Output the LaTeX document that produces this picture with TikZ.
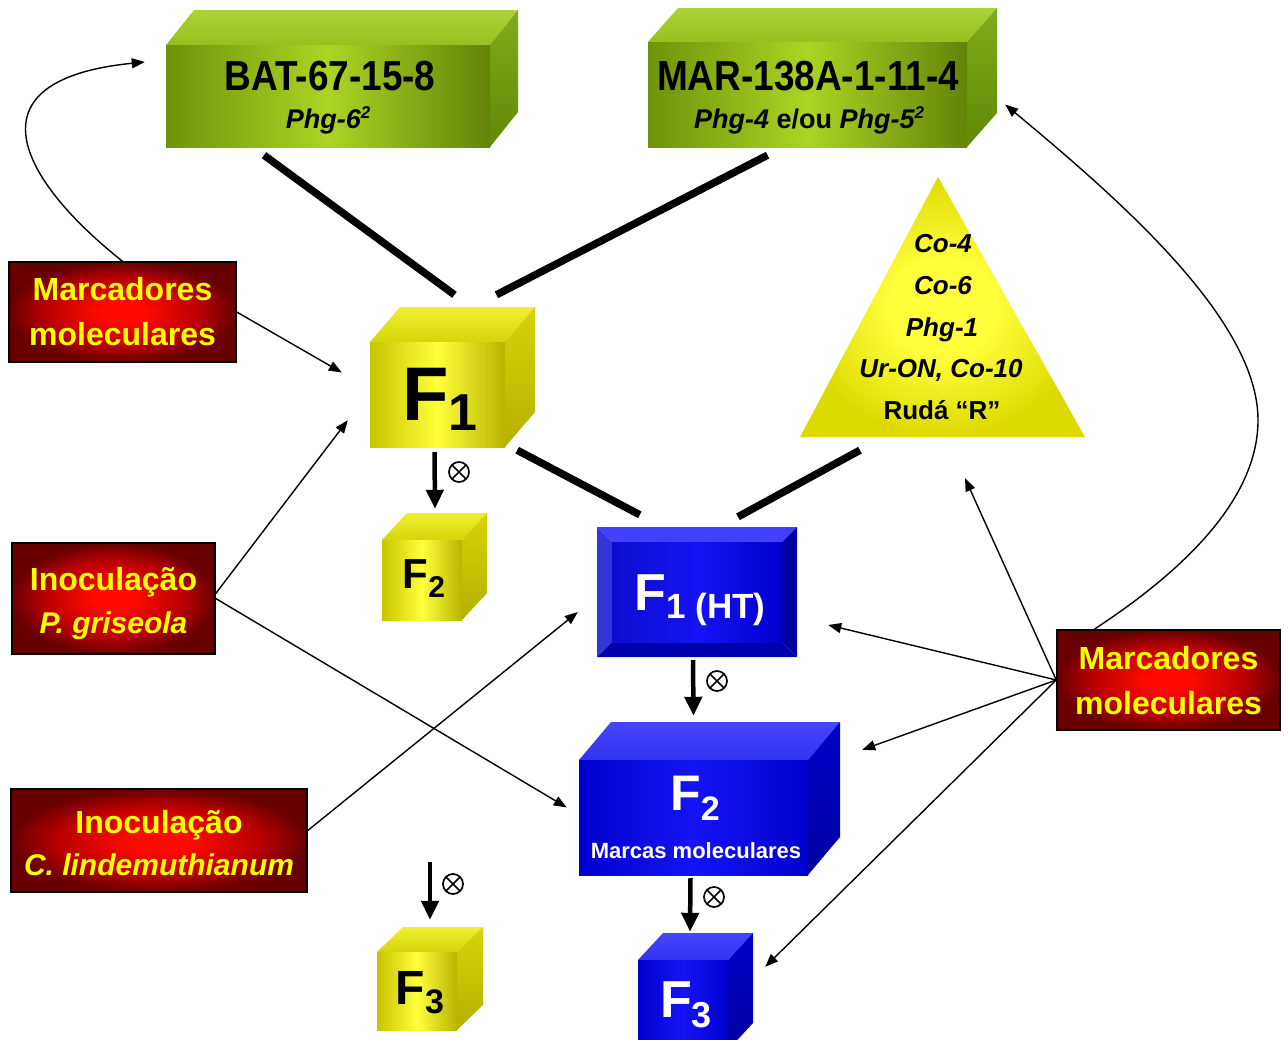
\documentclass[tikz,border=0pt]{standalone}
\usepackage{fontspec}
\setmainfont{Liberation Sans}
\usetikzlibrary{arrows.meta}

\definecolor{grA}{RGB}{110,146,10}
\definecolor{grB}{RGB}{172,212,36}
\definecolor{grTop}{RGB}{172,210,56}
\definecolor{grTopB}{RGB}{150,192,30}
\definecolor{grSide}{RGB}{98,136,8}
\definecolor{grSideB}{RGB}{130,172,24}
\definecolor{yeA}{RGB}{200,196,0}
\definecolor{yeB}{RGB}{255,255,60}
\definecolor{yeTop}{RGB}{240,240,50}
\definecolor{yeTopB}{RGB}{215,212,10}
\definecolor{yeSide}{RGB}{180,176,0}
\definecolor{yeSideB}{RGB}{215,212,10}
\definecolor{yeEdge}{RGB}{222,218,0}
\definecolor{blA}{RGB}{0,0,205}
\definecolor{blB}{RGB}{20,20,245}
\definecolor{blTop}{RGB}{70,70,255}
\definecolor{blTopB}{RGB}{50,50,240}
\definecolor{blSide}{RGB}{0,0,160}
\definecolor{blSideB}{RGB}{0,0,200}
\definecolor{rdIn}{RGB}{255,10,0}
\definecolor{rdMid}{RGB}{185,0,0}
\definecolor{rdOut}{RGB}{105,0,0}
\definecolor{txtYe}{RGB}{255,255,0}

\pgfdeclareradialshading{redglow}{\pgfpoint{0bp}{0bp}}{color(0bp)=(rdIn); color(5bp)=(rdIn); color(17bp)=(rdMid); color(25bp)=(rdOut); color(50bp)=(rdOut)}
\pgfdeclareradialshading{yeglow}{\pgfpoint{0bp}{0bp}}{color(0bp)=(yeB); color(9bp)=(yeB); color(25bp)=(yeEdge); color(50bp)=(yeEdge)}

\newcommand\myfs[1]{\fontsize{#1}{#1}\selectfont}
% name, x1, y1, x2, y2 (front face), dx, dy (depth), colour family
\newcommand\cuboid[8]{%
  \path[#8top] (#2,#3) -- ({#2+#6},{#3-#7}) -- ({#4+#6},{#3-#7}) -- (#4,#3) -- cycle;
  \path[#8side] (#4,#3) -- ({#4+#6},{#3-#7}) -- ({#4+#6},{#5-#7}) -- (#4,#5) -- cycle;
  \path[#8front] (#2,#3) rectangle (#4,#5);
  \node[inner sep=0pt, minimum width={#4-#2}, minimum height={#5-#3}] (#1) at ({(#2+#4)/2},{(#3+#5)/2}) {};
}

\tikzset{
  greenfront/.style={left color=grA, right color=grA!90!black, middle color=grB},
  greentop/.style={top color=grTop, bottom color=grTopB},
  greenside/.style={top color=grSideB, bottom color=grSide},
  yellowfront/.style={left color=yeA, right color=yeA!92!black, middle color=yeB},
  yellowtop/.style={top color=yeTop, bottom color=yeTopB},
  yellowside/.style={top color=yeSideB, bottom color=yeSide},
  bluefront/.style={left color=blA, right color=blA, middle color=blB},
  bluetop/.style={top color=blTop, bottom color=blTopB},
  blueside/.style={top color=blSideB, bottom color=blSide},
  redbox/.style={draw=black, line width=1.5pt, shading=redglow, inner sep=0pt},
  redtxt/.style={anchor=base, text=txtYe, font=\bfseries\myfs{32}},
  redtxtit/.style={anchor=base, text=txtYe, font=\bfseries\itshape\myfs{30}},
  bar/.style={line width=7.5pt},
  bigarrow/.style={line width=4.5pt, -{Triangle[length=19pt,width=17pt]}},
  thinarrow/.style={line width=1.4pt, -{Triangle[length=13pt,width=10pt]}},
  otimes/.style={circle, draw, line width=1.7pt, minimum size=20pt, inner sep=0pt,
    path picture={\draw[line width=1.7pt] (path picture bounding box.north west) -- (path picture bounding box.south east)
      (path picture bounding box.north east) -- (path picture bounding box.south west);}},
  tritxt/.style={anchor=base, font=\bfseries\itshape\myfs{26}},
}

\begin{document}
\begin{tikzpicture}[x=1pt, y=-1pt]
\useasboundingbox (0,0) rectangle (1288,1039);
\fill[white] (0,0) rectangle (1288,1039);

% ---------- 3D boxes ----------
\cuboid{bat}{166}{45}{490}{147}{28}{35}{green}
\cuboid{mar}{648}{42}{967}{147}{30}{34}{green}
\cuboid{fone}{370}{342}{505}{447}{30}{35}{yellow}
\cuboid{ftwoy}{382}{540}{462}{620}{25}{27}{yellow}
\cuboid{fthreey}{377}{952}{457}{1030}{26}{25}{yellow}
\cuboid{ftwob}{579}{760}{808}{875}{32}{38}{blue}
\cuboid{fthreeb}{638}{960}{728}{1050}{25}{27}{blue}

% bevelled F1 (HT)
\fill[blue!75!white] (597,527) -- (797,527) -- (782,542) -- (612,542) -- cycle;
\fill[blA!80!white] (597,527) -- (612,542) -- (612,642) -- (597,657) -- cycle;
\fill[blSide] (797,527) -- (797,657) -- (782,642) -- (782,542) -- cycle;
\fill[blA!85!black] (597,657) -- (797,657) -- (782,642) -- (612,642) -- cycle;
\path[left color=blA!95!white, right color=blA, middle color=blB] (612,542) rectangle (782,642);
\node[inner sep=0pt, minimum width=200pt, minimum height=130pt] (ht) at (697,592) {};

% triangle
\path[shading=yeglow] (938,177) -- (1085,437) -- (800,437) -- cycle;
\node[inner sep=0pt, minimum width=285pt, minimum height=260pt] (tri) at (942,307) {};

% red boxes
\node[redbox, minimum width=227pt, minimum height=100pt] (ml) at (122.5,312) {};
\node[redbox, minimum width=203pt, minimum height=111pt] (ig) at (113.5,598.5) {};
\node[redbox, minimum width=296pt, minimum height=103pt] (ic) at (159,840.5) {};
\node[redbox, minimum width=223pt, minimum height=100pt] (mr) at (1168.5,680) {};

% ---------- texts ----------
\node[anchor=base, font=\bfseries\myfs{42}] (batT) at (330,90) {\scalebox{0.88}[1]{BAT-67-15-8}};
\node[anchor=base, font=\bfseries\myfs{27}] (batG) at (328,128) {\itshape Phg-6\raisebox{10pt}{\myfs{17}2}};
\node[anchor=base, font=\bfseries\myfs{42}] (marT) at (808,90) {\scalebox{0.88}[1]{MAR-138A-1-11-4}};
\node[anchor=base, font=\bfseries\myfs{27}] (marG) at (809,128) {\itshape Phg-4 \upshape e/ou \itshape Phg-5\raisebox{10pt}{\myfs{17}2}};

\node[anchor=base, font=\bfseries] (foneT) at (440,420) {\myfs{76}F\raisebox{-10pt}{\myfs{52}1}};
\node[anchor=base, font=\bfseries] (ftwoyT) at (424,588) {\myfs{42}F\raisebox{-9pt}{\myfs{30}2}};
\node[anchor=base, font=\bfseries] (fthreeyT) at (420,1004) {\myfs{48}F\raisebox{-9pt}{\myfs{34}3}};

\node[anchor=base, font=\bfseries, text=white] (htT) at (700,610) {\myfs{52}F\raisebox{-8pt}{\myfs{35}1 (HT)}};
\node[anchor=base, font=\bfseries, text=white] (ftwobT) at (695,810) {\myfs{50}F\raisebox{-10pt}{\myfs{34}2}};
\node[anchor=base, font=\bfseries\myfs{22}, text=white] (ftwobM) at (696,858) {Marcas moleculares};
\node[anchor=base, font=\bfseries, text=white] (fthreebT) at (686,1017) {\myfs{52}F\raisebox{-10pt}{\myfs{36}3}};

\node[tritxt] (tA) at (943,252) {Co-4};
\node[tritxt] (tB) at (943,294) {Co-6};
\node[tritxt] (tC) at (942,336) {Phg-1};
\node[tritxt] (tD) at (941,377) {Ur-ON, Co-10};
\node[anchor=base, font=\bfseries\myfs{26}] (tE) at (942,419) {Rudá “R”};

\node[redtxt] (mlA) at (122.5,300) {Marcadores};
\node[redtxt] (mlB) at (122.5,345) {moleculares};
\node[redtxt] (igA) at (113.5,590) {Inoculação};
\node[redtxtit] (igB) at (113.5,633) {P. griseola};
\node[redtxt] (icA) at (159,833) {Inoculação};
\node[redtxtit] (icB) at (159,875) {C. lindemuthianum};
\node[redtxt] (mrA) at (1168.5,669) {Marcadores};
\node[redtxt] (mrB) at (1168.5,714) {moleculares};

% ---------- thick bars ----------
\draw[bar] ([shift={(-64,8)}]bat.south) -- ([shift={(17,-47)}]fone.north);
\draw[bar] ([shift={(-40,8)}]mar.south) -- ([shift={(59,-47)}]fone.north);
\draw[bar] ([shift={(12,3)}]fone.south east) -- ([shift={(43,-12)}]ht.north west);
\draw[bar] ([shift={(-82,13)}]tri.south) -- ([shift={(41,-10)}]ht.north);

% ---------- selfing arrows ----------
\coordinate (fthreeyIn) at (430,862);
\draw[bigarrow] ([shift={(-3,5)}]fone.south) -- ([shift={(13,-31)}]ftwoy.north);
\draw[bigarrow] ([shift={(-4,3)}]ht.south) -- ([shift={(0,-44)}]ftwob.north);
\draw[bigarrow] ([shift={(-3,3)}]ftwob.south) -- ([shift={(7,-28)}]fthreeb.north);
\draw[bigarrow] (fthreeyIn) -- ([shift={(13,-32)}]fthreey.north);
\node[otimes] (oA) at (459,472) {};
\node[otimes] (oB) at (717,681) {};
\node[otimes] (oC) at (714,897) {};
\node[otimes] (oD) at (453,884) {};

% ---------- thin arrows ----------
\draw[thinarrow] (ml.north) .. controls (20,180) and (-35,80) .. ([shift={(-21,-34)}]bat.west);
\draw[thinarrow] (ml.east) -- ([shift={(-28,-22)}]fone.west);
\draw[thinarrow] ([shift={(0,-5)}]ig.east) -- ([shift={(-22,-27)}]fone.south west);
\draw[thinarrow] (ig.east) -- ([shift={(-12,-10)}]ftwob.west);
\draw[thinarrow] ([shift={(0,-10)}]ic.east) -- ([shift={(-19,20)}]ht.west);
\draw[thinarrow] (mr.west) -- ([shift={(23,41)}]tri.south);
\draw[thinarrow] (mr.west) -- ([shift={(31,33)}]ht.east);
\draw[thinarrow] (mr.west) -- ([shift={(54,-10)}]ftwob.north east);
\draw[thinarrow] (mr.west) -- ([shift={(37,7)}]fthreeb.north east);
\draw[thinarrow] ([shift={(38,0)}]mr.north west) .. controls (1200,560) and (1258,490) .. (1258,420)
   .. controls (1258,320) and (1120,200) .. ([shift={(38,10)}]mar.east);
\end{tikzpicture}
\end{document}
